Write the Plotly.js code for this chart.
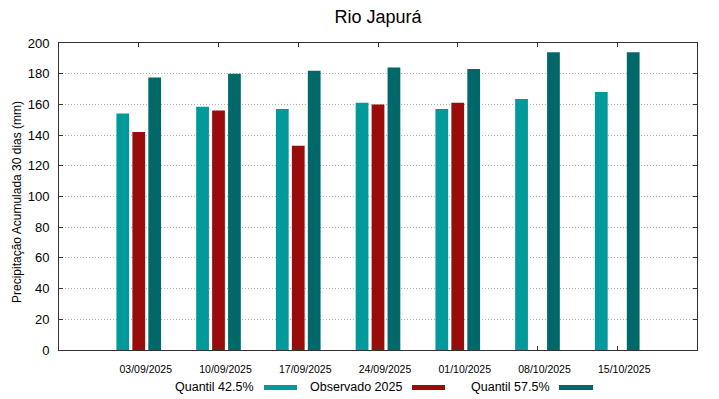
<!DOCTYPE html>
<html>
<head>
<meta charset="utf-8">
<script src="https://cdn.plot.ly/plotly-3.0.1.min.js"></script>
<style>html,body{margin:0;padding:0;background:#fff;}#chart{width:719px;height:399px;}</style>
</head>
<body>
<div id="chart"></div>
<script>
const categories = ["03/09/2025","10/09/2025","17/09/2025","24/09/2025","01/10/2025","08/10/2025","15/10/2025"];
const quantil425 = [154, 158.5, 157, 161, 157, 163.5, 168];
const observado2025 = [142, 156, 133, 160, 161, null, null];
const quantil575 = [177.5, 180, 182, 184, 183, 194, 194];
const seriesNames = ["Quantil 42.5%", "Observado 2025", "Quantil 57.5%"];
const seriesColors = ["#009a9a", "#990c0c", "#006868"];
const yTicks = [0,20,40,60,80,100,120,140,160,180,200];
const yTitle = "Precipitação Acumulada 30 dias (mm)";

const seriesData = [quantil425, observado2025, quantil575];
const offsets = [-0.28, -0.08, 0.12];
const xIdx = categories.map((c,i)=>i);

const traces = seriesData.map((vals, k) => ({
  type: 'bar',
  name: seriesNames[k],
  x: xIdx,
  y: vals,
  width: 0.16,
  offset: offsets[k],
  marker: {color: seriesColors[k], line: {color: seriesColors[k], width: 0}},
  showlegend: false,
  hovertemplate: '%{y}<extra>' + seriesNames[k] + '</extra>'
}));

// legend (gnuplot style: text then swatch)
const legendTextRight = [256, 404, 552];
const swatchX = [[264, 297], [412, 445], [559, 593]];
const W = 719, H = 399;
const ml = 59, mr = 22, mt = 43, mb = 49;
const pw = W - ml - mr, ph = H - mt - mb;
const FONT = 'Liberation Sans, Arial, sans-serif';
const annotations = [];
const shapes = [];
seriesNames.forEach((n, k) => {
  annotations.push({
    xref: 'paper', yref: 'paper',
    x: (legendTextRight[k] - ml) / pw,
    y: (H - mb - 387) / ph,
    xanchor: 'right', yanchor: 'middle',
    text: n, showarrow: false,
    font: {family: FONT, size: 12.5, color: '#000'}
  });
  shapes.push({
    type: 'rect', xref: 'paper', yref: 'paper',
    x0: (swatchX[k][0] - ml) / pw, x1: (swatchX[k][1] - ml) / pw,
    y0: (H - mb - 390) / ph, y1: (H - mb - 385) / ph,
    fillcolor: seriesColors[k], line: {width: 0}
  });
});
// y-axis title placed like the reference (slightly below plot centre)
annotations.push({
  xref: 'paper', yref: 'paper',
  x: (17 - ml) / pw, y: (H - mb - 202) / ph,
  xanchor: 'center', yanchor: 'middle',
  text: yTitle, textangle: -90, showarrow: false,
  font: {family: FONT, size: 12, color: '#000'}
});

const layout = {
  width: W, height: H,
  margin: {l: ml, r: mr, t: mt, b: mb, pad: 0},
  paper_bgcolor: '#fff', plot_bgcolor: '#fff',
  font: {family: FONT, color: '#000'},
  title: {text: 'Rio Japurá', x: 0.5, xref: 'paper', y: 0.957, yref: 'container', yanchor: 'middle', font: {size: 18, color: '#000'}},
  barmode: 'overlay',
  xaxis: {
    type: 'linear',
    range: [-1, 7],
    tickmode: 'array',
    tickvals: xIdx,
    ticktext: categories,
    ticks: 'inside', ticklen: 4, tickcolor: '#333',
    showline: true, linecolor: '#333', linewidth: 1, mirror: 'ticks',
    showgrid: false, zeroline: false,
    tickfont: {size: 10.5, color: '#000'},
    ticklabelstandoff: 9,
    ticklabelshift: 7,
    fixedrange: true
  },
  yaxis: {
    range: [0, 200],
    tickmode: 'array', tickvals: yTicks,
    ticks: 'inside', ticklen: 4, tickcolor: '#333',
    showline: true, linecolor: '#333', linewidth: 1, mirror: 'ticks',
    showgrid: true, gridcolor: '#b4b4b4', griddash: '1px,2px', gridwidth: 1,
    zeroline: false,
    tickfont: {size: 13, color: '#000'},
    ticklabelstandoff: 6,
    automargin: false,
    fixedrange: true
  },
  annotations: annotations,
  shapes: shapes,
  showlegend: false
};

Plotly.newPlot('chart', traces, layout, {displayModeBar: false, staticPlot: true});
</script>
</body>
</html>
